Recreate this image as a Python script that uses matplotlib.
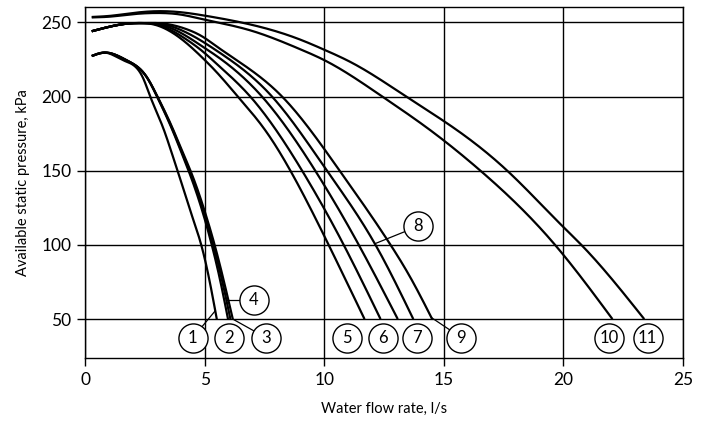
import numpy as np
import matplotlib
matplotlib.use("Agg")
import matplotlib.pyplot as plt

plt.rcParams['font.family'] = ['Lato', 'DejaVu Sans']

# Pump curves: water flow rate (l/s) vs available static pressure (kPa)
flow_1 = [0.27, 0.83, 1.59, 2.43, 2.71, 3.27, 3.65, 3.86, 4.48, 4.85, 5.22, 5.50]
pres_1 = [227.3, 229.6, 224.4, 212.0, 200.3, 178.3, 160.3, 150.0, 118.8, 100.0, 74.0, 50.0]

flow_2 = [0.27, 0.83, 1.73, 2.57, 2.99, 3.62, 4.07, 4.32, 4.97, 5.29, 5.67, 5.97]
pres_2 = [227.3, 229.6, 224.4, 213.1, 200.3, 178.3, 160.3, 150.0, 118.8, 100.0, 74.0, 50.0]

flow_3 = [0.27, 0.83, 1.73, 2.57, 3.01, 3.66, 4.13, 4.40, 5.07, 5.41, 5.82, 6.17]
pres_3 = [227.3, 229.6, 224.4, 213.1, 200.3, 178.3, 160.3, 150.0, 118.8, 100.0, 74.0, 50.0]

flow_4 = [0.27, 0.83, 1.73, 2.57, 3.00, 3.64, 4.10, 4.36, 5.02, 5.35, 5.75, 6.07]
pres_4 = [227.3, 229.6, 224.4, 213.1, 200.3, 178.3, 160.3, 150.0, 118.8, 100.0, 74.0, 50.0]

flow_5 = [0.27, 1.0, 1.8, 2.4, 2.8, 4.18, 4.94, 5.43, 6.38, 7.53, 8.58, 10.18, 11.68]
pres_5 = [244.0, 247.0, 249.2, 249.5, 248.8, 236.7, 225.5, 217.5, 200.0, 177.2, 150.0, 100.0, 50.0]

flow_6 = [0.27, 1.0, 1.8, 2.4, 2.9, 4.18, 4.94, 5.43, 6.90, 9.07, 10.81, 12.35]
pres_6 = [244.0, 247.0, 249.2, 249.5, 248.8, 239.0, 230.0, 223.0, 200.0, 150.0, 100.0, 50.0]

flow_7 = [0.27, 1.0, 1.8, 2.4, 3.0, 4.18, 4.94, 5.43, 7.39, 9.62, 11.44, 13.07]
pres_7 = [244.0, 247.0, 249.2, 249.5, 248.9, 241.2, 233.3, 228.0, 200.0, 150.0, 100.0, 50.0]

flow_8 = [0.27, 1.0, 1.8, 2.4, 3.1, 4.18, 4.94, 5.43, 7.81, 10.11, 12.14, 13.72]
pres_8 = [244.0, 247.0, 249.2, 249.5, 249.1, 243.5, 236.7, 231.6, 200.0, 150.0, 100.0, 50.0]

flow_9 = [0.27, 1.0, 1.8, 2.4, 3.2, 4.18, 4.94, 5.43, 8.23, 10.64, 12.77, 13.60, 14.51]
pres_9 = [244.0, 247.0, 249.2, 249.5, 249.3, 245.7, 240.0, 234.5, 200.0, 150.0, 100.0, 78.0, 50.0]

flow_10 = [0.27, 1.0, 2.0, 3.0, 4.0, 4.8, 6.9, 9.0, 10.0, 12.35, 14.44, 16.53, 19.65, 22.05]
pres_10 = [253.3, 253.8, 255.5, 256.3, 255.2, 252.5, 244.6, 231.8, 224.5, 200.8, 177.2, 150.0, 100.0, 50.0]

flow_11 = [0.27, 1.0, 2.0, 3.0, 4.0, 5.0, 6.5, 9.0, 10.0, 11.1, 13.46, 15.56, 17.65, 20.0, 20.75, 23.38]
pres_11 = [253.6, 254.3, 256.3, 257.5, 256.8, 254.5, 250.0, 238.3, 231.5, 223.2, 199.6, 177.2, 150.0, 112.0, 100.0, 50.0]

curve_names = ['1', '2', '3', '4', '5', '6', '7', '8', '9', '10', '11']
curve_flows = [flow_1, flow_2, flow_3, flow_4, flow_5, flow_6,
               flow_7, flow_8, flow_9, flow_10, flow_11]
curve_pres = [pres_1, pres_2, pres_3, pres_4, pres_5, pres_6,
              pres_7, pres_8, pres_9, pres_10, pres_11]

x_ticks = [0, 5, 10, 15, 20, 25]
y_ticks = [50, 100, 150, 200, 250]

# Callout bubble placement (data coordinates) and leader attachment pressures
bubble_x = [4.50, 6.03, 7.56, 7.04, 10.95, 12.46, 13.88, 13.91, 15.73, 21.91, 23.52]
bubble_y = [37.5, 37.5, 37.5, 62.6, 37.5, 37.5, 37.5, 112.5, 37.5, 37.5, 37.5]
leader_at = {'1': 55.6, '3': 50.0, '4': 62.6, '8': 100.8, '9': 51.0}


def natural_spline(x, y, xs):
    """Natural cubic spline through the given points, evaluated at xs."""
    x = np.asarray(x, float)
    y = np.asarray(y, float)
    n = len(x)
    h = np.diff(x)
    A = np.zeros((n, n))
    r = np.zeros(n)
    A[0, 0] = 1.0
    A[-1, -1] = 1.0
    for i in range(1, n - 1):
        A[i, i - 1] = h[i - 1]
        A[i, i] = 2 * (h[i - 1] + h[i])
        A[i, i + 1] = h[i]
        r[i] = 6 * ((y[i + 1] - y[i]) / h[i] - (y[i] - y[i - 1]) / h[i - 1])
    M = np.linalg.solve(A, r)
    i = np.clip(np.searchsorted(x, xs) - 1, 0, n - 2)
    hi = h[i]
    a = x[i + 1] - xs
    b = xs - x[i]
    return (M[i] * a**3 / (6 * hi) + M[i + 1] * b**3 / (6 * hi)
            + (y[i] / hi - M[i] * hi / 6) * a
            + (y[i + 1] / hi - M[i + 1] * hi / 6) * b)


fig = plt.figure(figsize=(7.09, 4.21), dpi=100)
ax = fig.add_axes([0.1203, 0.1504, 0.8430, 0.8318])

ax.set_xlim(0, 25)
ax.set_ylim(24, 260)
ax.set_xticks(x_ticks)
ax.set_yticks(y_ticks)
ax.tick_params(direction='out', length=6, width=1.0, colors='black',
               labelsize=12.5, pad=4)
for s in ax.spines.values():
    s.set_linewidth(1.0)
    s.set_color('black')
ax.grid(True, color='black', linewidth=1.0, zorder=1)
ax.set_axisbelow(True)

smooth = {}
for name, fx, py in zip(curve_names, curve_flows, curve_pres):
    xs = np.linspace(fx[0], fx[-1], 500)
    ys = natural_spline(fx, py, xs)
    smooth[name] = (xs, ys)
    ax.plot(xs, ys, color='black', linewidth=1.6, solid_capstyle='butt', zorder=3)

# Leader lines from bubbles to their curves
for i, name in enumerate(curve_names):
    if name in leader_at:
        xs, ys = smooth[name]
        k = int(np.argmax(ys))
        tail_x, tail_y = xs[k:], ys[k:]
        tx = np.interp(leader_at[name], tail_y[::-1], tail_x[::-1])
        ax.plot([tx, bubble_x[i]], [leader_at[name], bubble_y[i]],
                color='black', linewidth=0.9, zorder=4)

ax.scatter(bubble_x, bubble_y, s=440, facecolor='white', edgecolor='black',
           linewidth=1.0, zorder=5, clip_on=False)
for i, name in enumerate(curve_names):
    ax.text(bubble_x[i], bubble_y[i], name, ha='center', va='center',
            fontsize=12, zorder=6)

ax.set_xlabel('Water flow rate, l/s', fontsize=10.5, labelpad=10)
ax.set_ylabel('Available static pressure, kPa', fontsize=10.5, labelpad=8)

fig.savefig('out.png', dpi=100)
